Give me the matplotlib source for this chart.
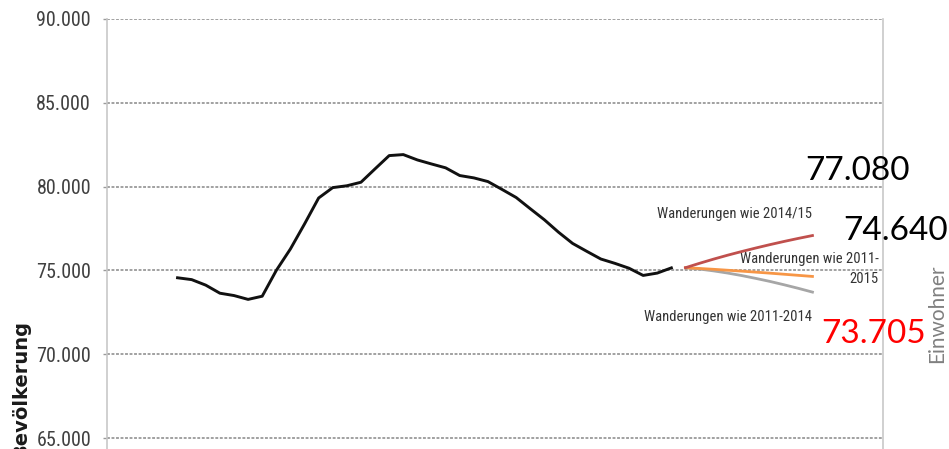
import matplotlib
matplotlib.use("Agg")
import matplotlib.pyplot as plt
from matplotlib import font_manager

# Bevölkerungsentwicklung (Einwohner), 1980-2015
hist_years = list(range(1980, 2016))
hist_pop = [74560, 74450, 74120, 73640, 73500, 73270, 73460, 75000, 76280, 77770,
            79320, 79940, 80050, 80260, 81060, 81850, 81910, 81590, 81350, 81120,
            80660, 80520, 80300, 79830, 79350, 78680, 78020, 77280, 76610, 76140,
            75680, 75420, 75130, 74700, 74840, 75150]

# Vorausberechnung 2016-2025 nach Wanderungsannahme
proj_years = list(range(2016, 2026))
proj_2014_15 = [75160, 75425, 75675, 75910, 76130, 76340, 76540, 76730, 76910, 77080]
proj_2011_15 = [75160, 75115, 75065, 75010, 74955, 74895, 74835, 74770, 74705, 74640]
proj_2011_14 = [75160, 75080, 74970, 74840, 74690, 74520, 74340, 74140, 73930, 73705]

scenario_labels = ["Wanderungen wie 2014/15", "Wanderungen wie 2011-\n2015",
                   "Wanderungen wie 2011-2014"]

y_ticks = [65000, 70000, 75000, 80000, 85000, 90000]


def de_fmt(v):
    return f"{v:,.0f}".replace(",", ".")


installed = {f.name for f in font_manager.fontManager.ttflist}
narrow = next((n for n in ["Liberation Sans Narrow", "Roboto Condensed", "Liberation Sans"]
               if n in installed), "DejaVu Sans")
big = "Lato" if "Lato" in installed else "DejaVu Sans"

W, H = 949, 449
fig = plt.figure(figsize=(W / 100, H / 100), dpi=100)
ax = fig.add_axes([107 / W, 0.0, (883 - 107) / W, 1 - 19 / H])

ax.set_xlim(1975, 2030)
ax.set_ylim(64344, 90000)

grid_c = "#9a9a9a"
for yv in y_ticks:
    ax.axhline(yv, color=grid_c, lw=1.3, ls=(0, (1.6, 0.9)), zorder=1)

ax.plot(hist_years, hist_pop, color="#111111", lw=2.1, zorder=3,
        solid_joinstyle="round")
ax.plot(proj_years, proj_2011_14, color="#a6a6a6", lw=2.0, zorder=3)
ax.plot(proj_years, proj_2011_15, color="#f79646", lw=2.0, zorder=4)
ax.plot(proj_years, proj_2014_15, color="#c0504d", lw=2.0, zorder=5)

ax.set_xticks([])
ax.set_yticks(y_ticks)
ax.set_yticklabels([de_fmt(v) for v in y_ticks], fontfamily=narrow,
                   fontsize=14.5, color="#404040")
ax.tick_params(axis="y", length=3, width=1, color=grid_c, pad=8.5)

for side in ["top", "bottom"]:
    ax.spines[side].set_visible(False)
for side in ["left", "right"]:
    ax.spines[side].set_color("#c8c8c8")
    ax.spines[side].set_linewidth(1.2)

# scenario captions
cap_style = dict(fontfamily=narrow, fontsize=10.5, color="#333333", va="center")
ax.text(2025.0, 78389, scenario_labels[0], ha="right", **cap_style)
ax.text(2029.7, 75077, scenario_labels[1], ha="right",
        multialignment="right", linespacing=1.55, **cap_style)
ax.text(2025.0, 72243, scenario_labels[2], ha="right", **cap_style)

# end values of the scenarios
ax.text(2028.2, 80955, de_fmt(proj_2014_15[-1]), ha="center", va="center",
        fontfamily=big, fontsize=24, color="black", clip_on=False)
ax.text(2030.9, 77375, de_fmt(proj_2011_15[-1]), ha="center", va="center",
        fontfamily=big, fontsize=24, color="black", clip_on=False)
ax.text(2029.3, 71228, de_fmt(proj_2011_14[-1]), ha="center", va="center",
        fontfamily=big, fontsize=24, color="#ff0000", clip_on=False)

fig.text(937 / W, 1 - 314 / H, "Einwohner", rotation=90, ha="center", va="center",
         fontfamily=big, fontsize=15, color="#808080")
fig.text(21 / W, 1 - 389 / H, "Bevölkerung", rotation=90, ha="center", va="center",
         fontfamily="DejaVu Sans", fontweight="bold", fontsize=14, color="#1a1a1a")

fig.savefig("out.png", dpi=100)
